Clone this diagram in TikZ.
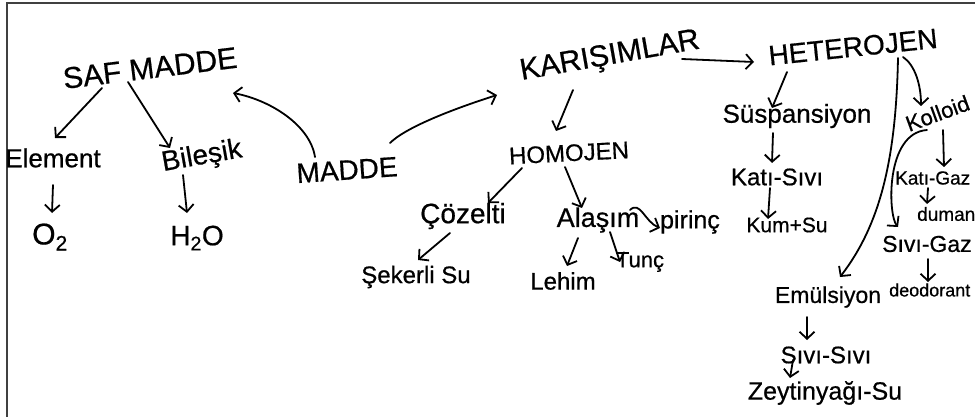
\documentclass[tikz,border=0pt]{standalone}
\usepackage{fontspec}
\setmainfont{Liberation Sans}[FakeBold=0.6]
\usetikzlibrary{arrows.meta,calc}
\begin{document}
\begin{tikzpicture}[x=1pt,y=-1pt,
  lbl/.style={inner sep=0pt,font=\fontsize{#1}{#1}\selectfont},
  arr/.style={line width=1.8pt,line cap=round,line join=round,
    -{Straight Barb[length=7pt,width=15pt,line width=1.8pt]}},
  frame/.style={line width=2pt,draw=black!75}]
\useasboundingbox (0,0) rectangle (975,417);
\draw[frame] (975,3) -- (7,3) -- (7,417);

% pure substances
\node[lbl=30,rotate=7] (saf) at (150,68) {SAF MADDE};
\node[lbl=26] (element) at (53,158) {Element};
\node[lbl=28,rotate=10] (bilesik) at (202,157) {Bileşik};
\node[lbl=30] (o2) at (50,237) {O\textsubscript{2}};
\node[lbl=28] (h2o) at (197,238) {H\textsubscript{2}O};

% root
\node[lbl=28,rotate=4] (madde) at (347,170) {MADDE};

% mixtures
\node[lbl=30,rotate=10] (karisim) at (610,57) {KARIŞIMLAR};
\node[lbl=28,rotate=6] (heterojen) at (853,47) {HETEROJEN};
\node[lbl=24,rotate=3] (homojen) at (569,153) {HOMOJEN};
\node[lbl=28] (cozelti) at (463,216) {Çözelti};
\node[lbl=27] (alasim) at (598,220) {Alaşım};
\node[lbl=25] (pirinc) at (690,222) {pirinç};
\node[lbl=24] (seker) at (416,277) {Şekerli Su};
\node[lbl=24] (lehim) at (563,281) {Lehim};
\node[lbl=22] (tunc) at (640,262) {Tunç};

\node[lbl=26] (suspansiyon) at (797,116) {Süspansiyon};
\node[lbl=24] (katisivi) at (777,177) {Katı-Sıvı};
\node[lbl=21] (kumsu) at (787,225) {Kum+Su};
\node[lbl=22,rotate=20,anchor=base west] (kolloid) at (909,132) {Kolloid};
\node[lbl=19,anchor=west] (katigaz) at (895,178) {Katı-Gaz};
\node[lbl=19,anchor=west] (duman) at (917,214) {duman};
\node[lbl=23,anchor=west] (sivigaz) at (882,244) {Sıvı-Gaz};
\node[lbl=18,anchor=west] (deodorant) at (889,290) {deodorant};
\node[lbl=23] (emulsiyon) at (828,297) {Emülsiyon};
\node[lbl=24] (sivisivi) at (826,355) {Sıvı-Sıvı};
\node[lbl=25] (zeytin) at (825,393) {Zeytinyağı-Su};

% connectors
\draw[arr] ($(saf)+(-48,20)$) -- ($(element)+(2,-20)$);
\draw[arr] ($(saf)+(-22,14)$) -- ($(bilesik)+(-32,-9)$);
\draw[arr] ($(element)+(0,27)$) -- ($(o2)+(2,-24)$);
\draw[arr] ($(bilesik)+(-19,18)$) -- ($(h2o)+(-10,-25)$);
\draw[arr] ($(madde)+(-32,-13)$) .. controls (310,125) and (270,100) .. ($(saf)+(83,25)$);
\draw[arr] ($(madde)+(43,-27)$) .. controls (405,128) and (450,110) .. ($(karisim)+(-113,38)$);
\draw[arr] ($(karisim)+(72,2)$) -- ($(heterojen)+(-99,15)$);
\draw[arr] ($(karisim)+(-37,33)$) -- ($(homojen)+(-13,-22)$);
\draw[arr] ($(homojen)+(-47,15)$) -- ($(cozelti)+(25,-13)$);
\draw[arr] ($(homojen)+(-4,14)$) -- ($(alasim)+(-16,-12)$);
\draw[arr] ($(alasim)+(32,-10)$) .. controls (640,200) and (645,222) .. ($(pirinc)+(-30,6)$);
\draw[arr] ($(cozelti)+(-13,17)$) -- ($(seker)+(2,-17)$);
\draw[arr] ($(alasim)+(-20,18)$) -- ($(lehim)+(4,-15)$);
\draw[arr] ($(alasim)+(12,12)$) -- ($(tunc)+(-20,0)$);

\draw[arr] ($(heterojen)+(-66,25)$) -- ($(suspansiyon)+(-25,-8)$);
\draw[arr] ($(suspansiyon)+(-24,17)$) -- ($(katisivi)+(-5,-14)$);
\draw[arr] ($(katisivi)+(-7,11)$) -- ($(kumsu)+(-19,-6)$);
\draw[arr] ($(heterojen)+(45,11)$) .. controls (896,160) and (880,225) .. ($(emulsiyon)+(12,-20)$);
\draw[arr] ($(heterojen)+(50,10)$) .. controls (915,65) and (921,85) .. ($(kolloid.base west)+(12,-26)$);
\draw[arr] ($(kolloid.base west)+(34,-2)$) -- ($(katigaz.west)+(49,-11)$);
\draw[arr] ($(katigaz.west)+(33,10)$) -- ($(duman.west)+(10,-10)$);
\draw[arr] ($(kolloid.base west)+(18,-2)$) .. controls (885,133) and (888,215) .. ($(sivigaz.west)+(16,-17)$);
\draw[arr] ($(sivigaz.west)+(46,15)$) -- ($(deodorant.west)+(39,-8)$);
\draw[arr] ($(emulsiyon)+(-21,20)$) -- ($(sivisivi)+(-19,-15)$);
\draw[arr] ($(sivisivi)+(-33,5)$) -- ($(zeytin)+(-35,-15)$);
\end{tikzpicture}
\end{document}
